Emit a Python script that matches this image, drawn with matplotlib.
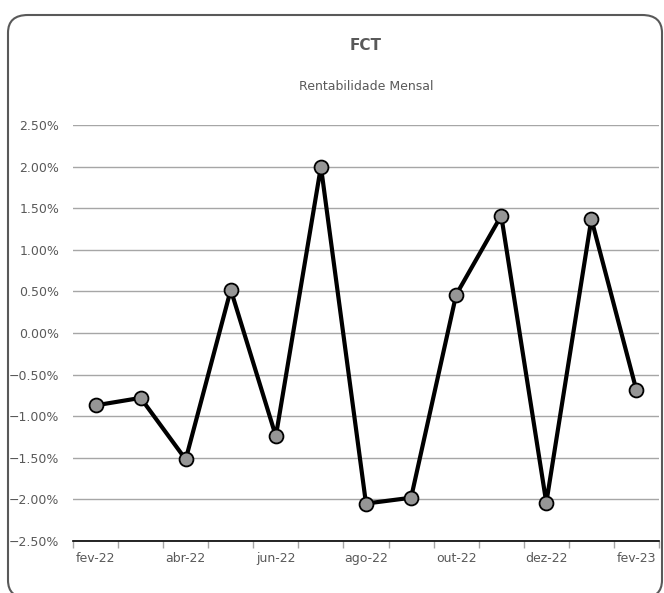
import matplotlib
matplotlib.use("Agg")
import matplotlib.pyplot as plt
from matplotlib.patches import FancyBboxPatch
from matplotlib.ticker import FixedLocator, PercentFormatter

months = ["fev-22", "mar-22", "abr-22", "mai-22", "jun-22", "jul-22", "ago-22",
          "set-22", "out-22", "nov-22", "dez-22", "jan-23", "fev-23"]
returns = [-0.87, -0.78, -1.52, 0.52, -1.24, 2.00, -2.05, -1.98, 0.46, 1.41, -2.04, 1.37, -0.69]
yticks = [-2.5, -2.0, -1.5, -1.0, -0.5, 0.0, 0.5, 1.0, 1.5, 2.0, 2.5]

plt.rcParams['font.family'] = ['DejaVu Sans']
text_col = '#595959'

fig = plt.figure(figsize=(6.64, 5.93), dpi=100)
border = FancyBboxPatch((8/664, -5/593), 654/664, (593-10)/593,
                        boxstyle="round,pad=0,rounding_size=0.03",
                        transform=fig.transFigure, facecolor='none',
                        edgecolor='#595959', linewidth=1.5, zorder=-1)
fig.patches.append(border)

ax = fig.add_axes([73/664, 1-541/593, (659-73)/664, (541-125)/593])
ax.set_facecolor('none')
x = list(range(len(months)))
ax.plot(x, returns, color='black', linewidth=3, marker='o', markersize=10,
        markerfacecolor='#969696', markeredgecolor='black', markeredgewidth=1.3,
        zorder=3, clip_on=False)

ax.set_xlim(-0.5, len(months) - 0.5)
ax.set_ylim(-2.5, 2.5)
ax.set_yticks(yticks)
ax.yaxis.set_major_formatter(PercentFormatter(decimals=2))
ax.grid(axis='y', color='#a6a6a6', linewidth=1)
ax.set_axisbelow(True)

ax.xaxis.set_major_locator(FixedLocator([i - 0.5 for i in range(len(months) + 1)]))
ax.xaxis.set_major_formatter(plt.NullFormatter())
ax.xaxis.set_minor_locator(FixedLocator(x[::2]))
ax.set_xticklabels([months[i] for i in x[::2]], minor=True)
ax.tick_params(axis='x', which='major', length=5, color='#a6a6a6', width=1)
ax.tick_params(axis='x', which='minor', length=0, pad=8, labelsize=9, labelcolor=text_col)
ax.tick_params(axis='y', length=0, pad=10, labelsize=9, labelcolor=text_col)

for s in ['top', 'right', 'left']:
    ax.spines[s].set_visible(False)
ax.spines['bottom'].set_color('black')
ax.spines['bottom'].set_linewidth(1.2)

fig.text(366/664, 1-45/593, "FCT", ha='center', va='center', fontsize=11,
         fontweight='bold', color=text_col)
fig.text(366/664, 1-87/593, "Rentabilidade Mensal", ha='center', va='center',
         fontsize=9, color=text_col)

fig.savefig("out.png", dpi=100)
